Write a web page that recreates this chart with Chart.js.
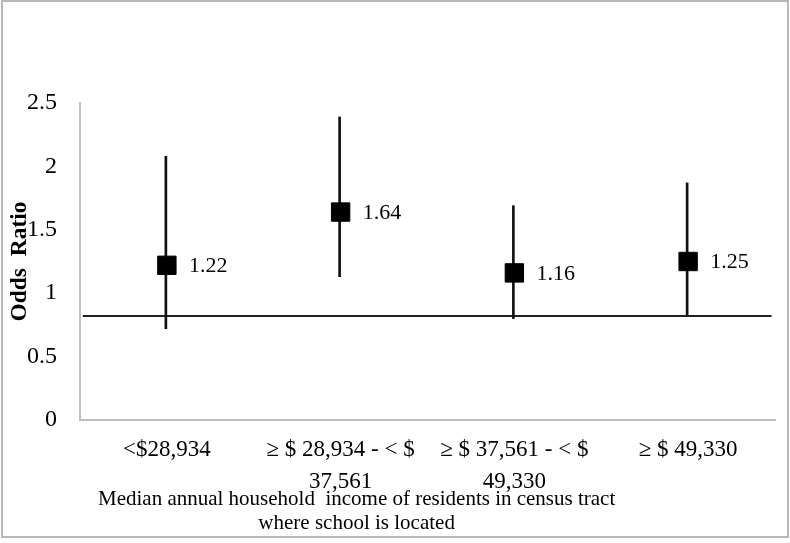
<!DOCTYPE html>
<html>
<head>
<meta charset="utf-8">
<script src="https://cdn.jsdelivr.net/npm/chart.js@4"></script>
<style>
    html, body { margin: 0; padding: 0; background: #fff; }
    #wrap { width: 790px; height: 543px; }
</style>
</head>
<body>
<div id="wrap"><canvas id="oddsChart"></canvas></div>
<script>
// Income groups (x axis)
const categories = [
    ['<$28,934'],
    ['\u2265 $ 28,934 - < $', '37,561'],
    ['\u2265 $ 37,561 - < $', '49,330'],
    ['\u2265 $ 49,330']
];
// Odds ratios and confidence limits
const oddsRatios = [1.22, 1.64, 1.16, 1.25];
const ciLow = [0.72, 1.13, 0.80, 0.83];
const ciHigh = [2.08, 2.39, 1.69, 1.87];
// Reference line value
const refValue = 0.82;
const yTicks = [0, 0.5, 1, 1.5, 2, 2.5];

const serif = "'Liberation Serif', 'Times New Roman', serif";
// pad the title lines so they sit left of the plot centre like the original
const pad = ' '.repeat(27);
const xTitle = ['Median annual household  income of residents in census tract' + pad, 'where school is located' + pad];

const frame = {
    id: 'frame',
    beforeDraw(chart) {
        const ctx = chart.ctx;
        ctx.save();
        ctx.fillStyle = '#fff';
        ctx.fillRect(0, 0, chart.width, chart.height);
        ctx.strokeStyle = '#b8b8b8';
        ctx.lineWidth = 2;
        ctx.strokeRect(2, 1, chart.width - 4, chart.height - 7);
        ctx.restore();
    }
};

const valueLabels = {
    id: 'valueLabels',
    afterDatasetsDraw(chart) {
        const ctx = chart.ctx;
        const meta = chart.getDatasetMeta(0);
        ctx.save();
        ctx.font = '22px ' + serif;
        ctx.fillStyle = '#000';
        ctx.textBaseline = 'middle';
        meta.data.forEach((pt, i) => {
            ctx.fillText(oddsRatios[i].toFixed(2), pt.x + 22, pt.y + 1);
        });
        ctx.restore();
    }
};

const ctx = document.getElementById('oddsChart');
new Chart(ctx, {
    type: 'bar',
    data: {
        labels: categories,
        datasets: [
            {
                type: 'line',
                data: oddsRatios,
                showLine: false,
                pointStyle: 'rect',
                pointRadius: 13,
                pointBackgroundColor: '#000',
                pointBorderColor: '#000',
                pointBorderWidth: 1,
                order: 0
            },
            {
                type: 'bar',
                data: ciLow.map((lo, i) => [lo, ciHigh[i]]),
                backgroundColor: '#111',
                borderWidth: 0,
                barThickness: 2,
                order: 1
            },
            {
                type: 'line',
                xAxisID: 'x2',
                data: [{ x: 0.004, y: refValue }, { x: 0.995, y: refValue }],
                borderColor: '#222',
                borderWidth: 2,
                pointRadius: 0,
                order: 2
            }
        ]
    },
    options: {
        responsive: true,
        maintainAspectRatio: false,
        animation: false,
        layout: { padding: { top: 103, right: 15, left: 0, bottom: 0 } },
        plugins: {
            legend: { display: false },
            tooltip: { enabled: false }
        },
        scales: {
            x: {
                offset: true,
                grid: { display: false, drawTicks: false },
                border: { display: true, color: '#bfbfbf', width: 2 },
                ticks: {
                    color: '#000',
                    font: { family: serif, size: 23, lineHeight: 1.38 },
                    padding: 14,
                    maxRotation: 0,
                    autoSkip: false
                },
                title: {
                    display: true,
                    text: xTitle,
                    color: '#000',
                    font: { family: serif, size: 21, lineHeight: 1.15 },
                    padding: { top: 0, bottom: 7 }
                },
                afterFit(scale) { scale.height = 123; }
            },
            x2: {
                type: 'linear',
                display: false,
                offset: false,
                min: 0,
                max: 1
            },
            y: {
                min: 0,
                max: 2.5,
                afterBuildTicks(scale) { scale.ticks = yTicks.map(v => ({ value: v })); },
                grid: { display: false, drawTicks: false },
                border: { display: true, color: '#bfbfbf', width: 2 },
                ticks: {
                    color: '#000',
                    font: { family: serif, size: 24 },
                    padding: 23,
                    callback: v => String(v)
                },
                title: {
                    display: true,
                    text: 'Odds  Ratio',
                    color: '#000',
                    font: { family: serif, size: 23.5, weight: 'bold', lineHeight: 1.2 },
                    padding: { top: 6, bottom: 0 }
                },
                afterFit(scale) { scale.width = 80; }
            }
        }
    },
    plugins: [frame, valueLabels]
});
</script>
</body>
</html>
